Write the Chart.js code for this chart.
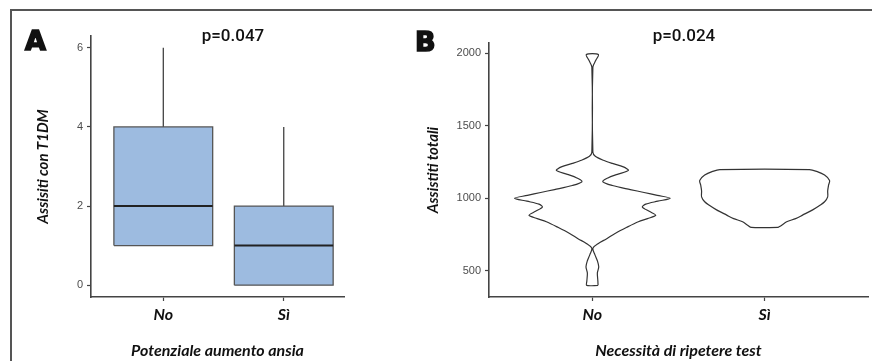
<!DOCTYPE html>
<html>
<head>
<meta charset="utf-8">
<script src="https://cdn.jsdelivr.net/npm/chart.js@4/dist/chart.umd.min.js"></script>
<style>
  html, body { margin: 0; padding: 0; background: #fff; width: 872px; height: 361px; overflow: hidden; position: relative; }
  .frame { position: absolute; left: 10px; top: 9px; width: 900px; height: 400px; border: 2px solid #555; box-sizing: border-box; }
  #panelA { position: absolute; left: 0; top: 0; }
  #panelB { position: absolute; left: 400px; top: 0; }
  .tag { position: absolute; font-family: "DejaVu Sans", sans-serif; font-weight: 900; font-size: 27px; line-height: 1; color: #111; -webkit-text-stroke: 1.6px #111; }
  .pval { position: absolute; font-family: "Roboto", "Liberation Sans", sans-serif; font-weight: 500; font-size: 17px; color: #111; transform: translate(-50%, -50%); white-space: nowrap; }
</style>
</head>
<body>
<div class="frame"></div>
<canvas id="panelA" width="400" height="361"></canvas>
<canvas id="panelB" width="472" height="361"></canvas>
<div class="tag" style="left:25px; top:27px;">A</div>
<div class="tag" style="left:415px; top:28px;">B</div>
<div class="pval" style="left:233px; top:35px;">p=0.047</div>
<div class="pval" style="left:684px; top:35px;">p=0.024</div>
<script>
// Panel A: boxplot
const boxCategories = ["No", "Sì"];
const boxMin = [1, 0];
const boxQ1 = [1, 0];
const boxMedian = [2, 1];
const boxQ3 = [4, 2];
const boxMax = [6, 4];
const boxTicks = [0, 2, 4, 6];

// Panel B: violin outlines (value levels and half widths in category units)
const violinCategories = ["No", "Sì"];
const violinNoLevels = [400, 430, 485, 528, 570, 610, 655, 689, 720, 758, 800, 838, 860, 883, 910, 940, 960, 980, 1000, 1020, 1040, 1060, 1088, 1115, 1140, 1165, 1192, 1216, 1240, 1262, 1290, 1317, 1904, 1950, 1991];
const violinNoHalf = [0.033, 0.032, 0.029, 0.037, 0.029, 0.015, 0.003, 0.035, 0.081, 0.132, 0.2, 0.267, 0.32, 0.368, 0.33, 0.29, 0.31, 0.38, 0.452, 0.377, 0.3, 0.22, 0.116, 0.06, 0.09, 0.145, 0.209, 0.18, 0.116, 0.064, 0.017, 0.003, 0.003, 0.02, 0.035];
const violinSiLevels = [799, 815, 838, 860, 884, 920, 950, 976, 1010, 1050, 1090, 1123, 1160, 1185, 1198];
const violinSiHalf = [0.077, 0.099, 0.128, 0.18, 0.22, 0.279, 0.319, 0.348, 0.366, 0.366, 0.371, 0.377, 0.348, 0.302, 0.26];
const violinTicks = [500, 1000, 1500, 2000];

const axisColor = "#444";
const boxFill = "#9dbbe0";
const boxLine = "#555";
const boxHalfWidth = 0.41;
const titleFont = { family: "Lato", style: "italic", weight: "bold", size: 15 };
const catFont = { family: "Lato", style: "italic", weight: "bold", size: 16 };
const tickFont = { family: "Liberation Sans", size: 11 };

function boxDatasets() {
  const sets = [];
  boxCategories.forEach((cat, i) => {
    const c = i + 1;
    const x0 = c - boxHalfWidth;
    const x1 = c + boxHalfWidth;
    sets.push({
      data: [{ x: x0, y: boxQ3[i] }, { x: x1, y: boxQ3[i] }],
      fill: { value: boxQ1[i] },
      backgroundColor: boxFill,
      borderWidth: 0,
      order: 3
    });
    sets.push({
      data: [{ x: x0, y: boxQ1[i] }, { x: x0, y: boxQ3[i] }, { x: x1, y: boxQ3[i] }, { x: x1, y: boxQ1[i] }, { x: x0, y: boxQ1[i] }],
      borderColor: boxLine,
      borderWidth: 1.3,
      order: 2
    });
    sets.push({
      data: [{ x: c, y: boxQ3[i] }, { x: c, y: boxMax[i] }],
      borderColor: "#333",
      borderWidth: 1.2,
      order: 2
    });
    sets.push({
      data: [{ x: c, y: boxMin[i] }, { x: c, y: boxQ1[i] }],
      borderColor: "#333",
      borderWidth: 1.2,
      order: 2
    });
    sets.push({
      data: [{ x: x0, y: boxMedian[i] }, { x: x1, y: boxMedian[i] }],
      borderColor: "#222",
      borderWidth: 2,
      order: 1
    });
  });
  return sets;
}

function violinOutline(center, levels, halfWidths) {
  const right = levels.map((y, i) => ({ x: center + halfWidths[i], y }));
  const left = levels.map((y, i) => ({ x: center - halfWidths[i], y })).reverse();
  return right.concat(left, [right[0]]);
}

function xScale(min, max, categories, title) {
  return {
    type: "linear",
    min,
    max,
    afterBuildTicks: (scale) => {
      scale.ticks = categories.map((c, i) => ({ value: i + 1 }));
    },
    afterFit: (scale) => {
      scale.height = 64;
    },
    border: { display: true, color: axisColor, width: 1.6 },
    grid: { drawOnChartArea: false, drawTicks: true, tickLength: 4, tickColor: axisColor, tickWidth: 1.2 },
    ticks: {
      color: "#111",
      font: catFont,
      padding: 4,
      maxRotation: 0,
      callback: (value, index) => categories[index]
    },
    title: { display: true, text: title, color: "#111", font: catFont, padding: { top: 2, bottom: 1 } }
  };
}

function yScale(min, max, tickValues, title, width) {
  return {
    type: "linear",
    min,
    max,
    afterBuildTicks: (scale) => {
      scale.ticks = tickValues.map((v) => ({ value: v }));
    },
    afterFit: (scale) => {
      scale.width = width;
    },
    border: { display: true, color: axisColor, width: 1.6 },
    grid: { drawOnChartArea: false, drawTicks: true, tickLength: 4, tickColor: axisColor, tickWidth: 1.2 },
    ticks: { color: "#4d4d4d", font: tickFont, padding: 4, callback: (value) => String(value) },
    title: { display: true, text: title, color: "#111", font: titleFont, padding: { top: 4, bottom: 4 } }
  };
}

const commonOptions = {
  responsive: false,
  animation: false,
  events: [],
  plugins: { legend: { display: false }, tooltip: { enabled: false } },
  elements: { point: { radius: 0 }, line: { tension: 0 } }
};

new Chart(document.getElementById("panelA"), {
  type: "scatter",
  data: {
    datasets: boxDatasets().map((d) => Object.assign({ showLine: true, pointRadius: 0 }, d))
  },
  options: Object.assign({}, commonOptions, {
    layout: { padding: { left: 30, top: 36, right: 56, bottom: 0 } },
    scales: {
      x: xScale(0.4, 2.5, boxCategories, "Potenziale aumento ansia"),
      y: yScale(-0.3, 6.3, boxTicks, "Assisiti con T1DM", 61)
    }
  })
});

new Chart(document.getElementById("panelB"), {
  type: "scatter",
  data: {
    datasets: [
      {
        data: violinOutline(1, violinNoLevels, violinNoHalf),
        showLine: true,
        pointRadius: 0,
        borderColor: "#333",
        borderWidth: 1.2,
        tension: 0.3
      },
      {
        data: violinOutline(2, violinSiLevels, violinSiHalf),
        showLine: true,
        pointRadius: 0,
        borderColor: "#333",
        borderWidth: 1.2,
        tension: 0.3
      }
    ]
  },
  options: Object.assign({}, commonOptions, {
    layout: { padding: { left: 20, top: 43, right: 4, bottom: 0 } },
    scales: {
      x: xScale(0.4, 2.6, violinCategories, "Necessità di ripetere test"),
      y: yScale(320, 2069.5, violinTicks, "Assistiti totali", 69)
    }
  })
});
</script>
</body>
</html>
